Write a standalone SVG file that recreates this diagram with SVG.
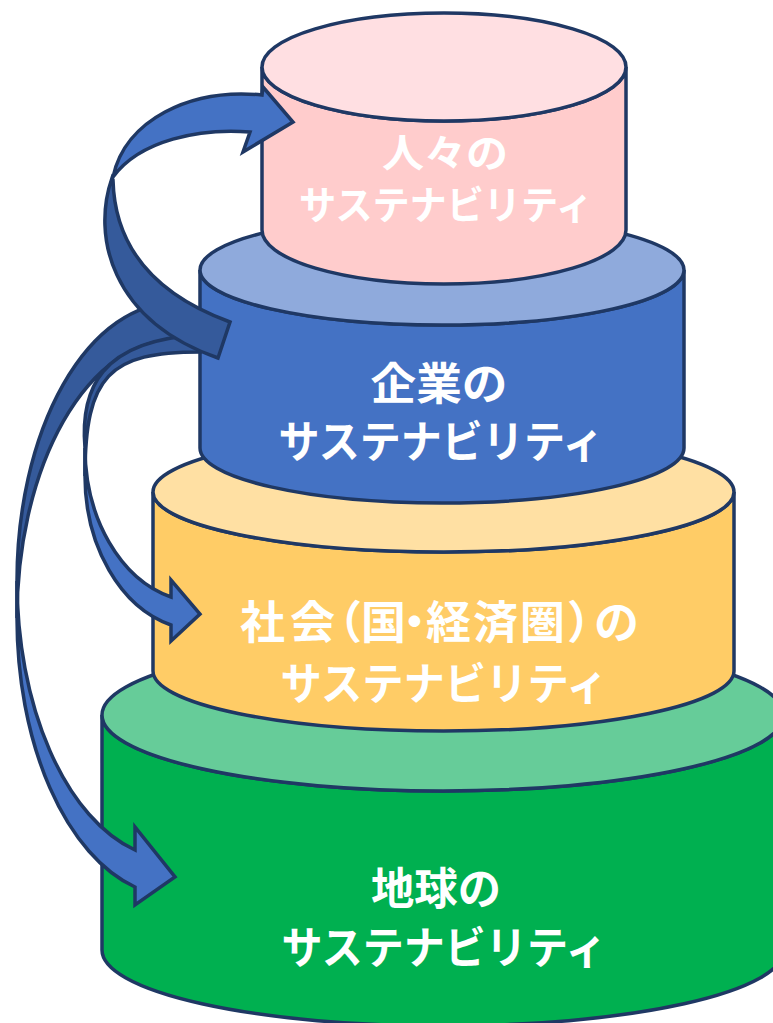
<svg xmlns="http://www.w3.org/2000/svg" width="773" height="1023" viewBox="0 0 773 1023">
<style>
.ol{stroke:#1F3864;stroke-width:3.5;stroke-linejoin:miter;stroke-miterlimit:10}
.lbl{font-family:"Noto Sans CJK JP","Noto Sans CJK SC",sans-serif;font-weight:bold;fill:#FFFFFF;text-anchor:middle}
.st{text-anchor:start}
.arL{fill:#4472C4}
.arD{fill:#355A9B}
</style>
<rect width="773" height="1023" fill="#FFFFFF"/>
<g id="node-earth">
<path class="ol" fill="#00B050" d="M102,715 A341,76 0 0 0 784,715 L784,950 A341,76 0 0 1 102,950 Z"/>
<ellipse class="ol" fill="#66CC99" cx="443" cy="715" rx="341" ry="76"/>
<text class="lbl" font-size="44" x="436" y="905" textLength="130" lengthAdjust="spacingAndGlyphs">地球の</text>
<text class="lbl" font-size="44" x="444" y="964" textLength="325" lengthAdjust="spacingAndGlyphs">サステナビリティ</text>
</g>
<g id="node-society">
<path class="ol" fill="#FFCC66" d="M153,492 A290.5,60 0 0 0 734,492 L734,671 A290.5,60 0 0 1 153,671 Z"/>
<ellipse class="ol" fill="#FFE0A3" cx="443.5" cy="492" rx="290.5" ry="60"/>
<text class="lbl st" font-size="45" x="240 290 317 361 392 426 473 520 567 594" y="639">社会（国・経済圏）の</text>
<text class="lbl" font-size="44" x="444" y="700" textLength="327" lengthAdjust="spacingAndGlyphs">サステナビリティ</text>
</g>
<g id="node-company">
<path class="ol" fill="#4472C4" d="M200,270 A242,55 0 0 0 684,270 L684,448 A242,55 0 0 1 200,448 Z"/>
<ellipse class="ol" fill="#8FAADC" cx="442" cy="270" rx="242" ry="55"/>
<text class="lbl" font-size="44" x="439" y="400" textLength="137" lengthAdjust="spacingAndGlyphs">企業の</text>
<text class="lbl" font-size="44" x="441" y="458" textLength="325" lengthAdjust="spacingAndGlyphs">サステナビリティ</text>
</g>
<g id="node-people">
<path class="ol" fill="#FFCCCC" d="M262,67 A182,54 0 0 0 626,67 L626,230 A182,54 0 0 1 262,230 Z"/>
<ellipse class="ol" fill="#FFDFE2" cx="444" cy="67" rx="182" ry="54"/>
<text class="lbl" font-size="39" x="445" y="167" textLength="126" lengthAdjust="spacingAndGlyphs">人々の</text>
<text class="lbl" font-size="39" x="446" y="219" textLength="294" lengthAdjust="spacingAndGlyphs">サステナビリティ</text>
</g>
<g id="connectors">
<g id="arrow-company-earth">
<path class="ol arL" d="M17,581 A158,278 0 0 0 135,850 L135,827 L175,877 L135,905 L135,887 A158,278 0 0 1 17,618 Z"/>
<path class="ol arD" d="M175,303 A158,278 0 0 0 17,581 L17,618 A158,278 0 0 1 175,340 Z"/>
</g>
<g id="arrow-company-society">
<path class="ol arL" d="M85,448 A115,154 0 0 0 171,597 L171,580 L200,614 L171,641 L171,625 A115,154 0 0 1 85,476 Z"/>
<path class="ol arD" d="M85,448 C80,390 100,340 200,335 L200,352 C110,352 85,375 85,476 Z"/>
</g>
<g id="arrow-company-people">
<path class="ol arL" d="M113,177 C125,120 190,88 262,95 L263,87 L293,122 L243,152 L250,132 C200,128 140,140 113,177 Z"/>
<path class="ol arD" d="M112,178 C92,235 110,320 218,358 L230,322 C170,300 115,260 113,180 Z"/>
</g>
</g>
</svg>
